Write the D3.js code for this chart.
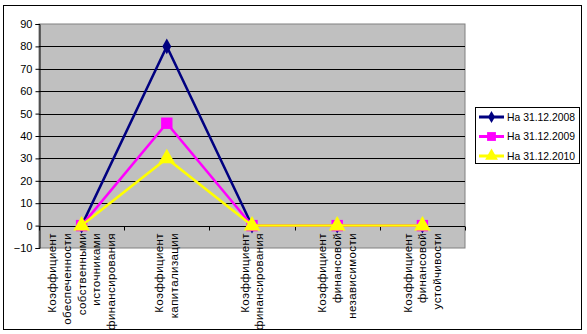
<!DOCTYPE html>
<html><head><meta charset="utf-8">
<script src="https://cdn.jsdelivr.net/npm/d3@7"></script>
<style>body{margin:0;background:#fff}svg{display:block}text{font-family:Arial,"Liberation Sans",sans-serif}</style>
</head><body>
<svg id="c" width="587" height="334"></svg>
<script>
const categories = [
  ["Коэффициент","обеспеченности","собственными","источниками","финансирования"],
  ["Коэффициент","капитализации"],
  ["Коэффициент","финансирования"],
  ["Коэффициент","финансовой","независимости"],
  ["Коэффициент","финансовой","устойчивости"]
];
const seriesNames = ["На 31.12.2008","На 31.12.2009","На 31.12.2010"];
const s2008 = [0, 80, 0, 0, 0];
const s2009 = [0, 45.7, 0, 0, 0];
const s2010 = [0, 30, 0, 0, 0];
const yTicks = [-10,0,10,20,30,40,50,60,70,80,90];

const svg = d3.select("#c");
const L = 39, R = 465, T = 24, B = 248;
svg.append("rect").attr("x",3.5).attr("y",5.5).attr("width",578).attr("height",324)
  .attr("fill","#fff").attr("stroke","#000");

const x = d3.scaleBand().domain(d3.range(categories.length)).range([L,R]);
const y = d3.scaleLinear().domain([-10,90]).range([B,T]);

svg.append("rect").attr("x",L).attr("y",T).attr("width",R-L).attr("height",B-T)
  .attr("fill","#c0c0c0").attr("stroke","#808080");
svg.append("g").selectAll("line").data(yTicks.filter(t=>t>-10&&t<90)).join("line")
  .attr("x1",L).attr("x2",R).attr("y1",d=>Math.round(y(d))+0.5).attr("y2",d=>Math.round(y(d))+0.5)
  .attr("stroke","#000");

// y axis
const ya = svg.append("g").attr("transform",`translate(${L+0.5},0)`)
  .call(d3.axisLeft(y).tickValues(yTicks).tickSize(4).tickPadding(3).tickFormat(d3.format("d")));
ya.select(".domain").attr("stroke","#000");
ya.selectAll("text").attr("font-size",11).attr("fill","#000").attr("font-family","Arial");
ya.selectAll(".tick line").attr("stroke","#000");

// x axis at 0
const y0 = Math.round(y(0))+0.5;
svg.append("line").attr("x1",L).attr("x2",R).attr("y1",y0).attr("y2",y0).attr("stroke","#000");
svg.append("g").selectAll("line").data(d3.range(categories.length+1)).join("line")
  .attr("x1",d=>Math.round(L+x.step()*d)+0.5).attr("x2",d=>Math.round(L+x.step()*d)+0.5)
  .attr("y1",y0).attr("y2",y0+4).attr("stroke","#000");

// category labels
const lg = svg.append("g");
categories.forEach((lines,i)=>{
  const cx = x(i)+x.bandwidth()/2;
  lines.forEach((ln,j)=>{
    const px = cx + (j-(lines.length-1)/2)*14.8;
    lg.append("text").attr("transform",`translate(${px},233) rotate(-90)`)
      .attr("text-anchor","end").attr("dy","0.35em").attr("font-size",11.5)
      .attr("letter-spacing","0.4").attr("fill","#000").text(ln);
  });
});

const series = [
  {name:seriesNames[0], data:s2008, color:"#000080", w:2.5, sym:d3.symbolDiamond, size:70},
  {name:seriesNames[1], data:s2009, color:"#ff00ff", w:2.5, sym:d3.symbolSquare, size:130},
  {name:seriesNames[2], data:s2010, color:"#ffff00", w:2.5, sym:d3.symbolTriangle, size:120}
];
const line = d3.line().x((d,i)=>x(i)+x.bandwidth()/2).y(d=>y(d));
series.forEach(s=>{
  svg.append("path").datum(s.data).attr("d",line).attr("fill","none")
    .attr("stroke",s.color).attr("stroke-width",s.w);
  svg.append("g").selectAll("path").data(s.data).join("path")
    .attr("transform",(d,i)=>`translate(${x(i)+x.bandwidth()/2},${y(d)})`)
    .attr("d",d3.symbol().type(s.sym).size(s.size)).attr("fill",s.color);
});

// legend
const leg = svg.append("g");
leg.append("rect").attr("x",475.5).attr("y",107.5).attr("width",104).attr("height",56)
  .attr("fill","#fff").attr("stroke","#000");
series.forEach((s,i)=>{
  const yy = 117 + i*19.5;
  leg.append("line").attr("x1",479).attr("x2",504).attr("y1",yy).attr("y2",yy)
    .attr("stroke",s.color).attr("stroke-width",3);
  leg.append("path").attr("transform",`translate(491.5,${yy})`)
    .attr("d",d3.symbol().type(s.sym).size(s.size*0.6)).attr("fill",s.color);
  leg.append("text").attr("x",507).attr("y",yy).attr("dy","0.35em").attr("font-size",11)
    .attr("textLength",68).attr("lengthAdjust","spacingAndGlyphs")
    .attr("fill","#000").text(s.name);
});
</script>
</body></html>
